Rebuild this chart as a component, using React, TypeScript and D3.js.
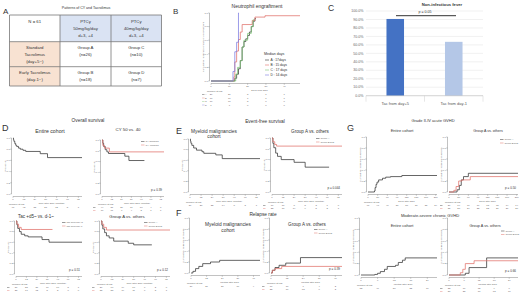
import React from "react";
import * as d3 from "d3";

const FONT = "'Liberation Sans', Arial, sans-serif";
const INK = "#333";
const GREY = "#666";
const RED = "#e0706a";

// ---------- Panel A data ----------
const tableCorner = ["N = 61"];
const tableColHeads = [
  ["PTCy", "50mg/kg/day", "d+3, +4"],
  ["PTCy", "40mg/kg/day", "d+3, +4"],
];
const tableRowHeads = [
  ["Standard", "Tacrolimus", "(day+5~)"],
  ["Early Tacrolimus", "(day-1~)"],
];
const tableCells = [
  [["Group A", "(n=26)"], ["Group C", "(n=10)"]],
  [["Group B", "(n=18)"], ["Group D", "(n=7)"]],
];

// ---------- Panel B data ----------
type Pt = [number, number];
const engraftTicks = [0, 10, 20, 30, 40];
const engraftA: Pt[] = [[0, 0], [13, 0.04], [14, 0.1], [15, 0.18], [16, 0.3], [17, 0.5], [18, 0.58], [19, 0.62], [20, 0.67], [21, 0.72], [22, 0.8], [23, 0.88], [24, 0.92]];
const engraftB: Pt[] = [[0, 0], [12.5, 0.06], [13, 0.28], [14, 0.44], [15, 0.61], [16, 0.72], [17, 0.83], [22.5, 0.89], [24, 0.94], [29.5, 0.96]];
const engraftC: Pt[] = [[0, 0], [13.5, 0.1], [14.5, 0.2], [16, 0.3], [17, 0.5], [18, 0.6], [20, 0.7], [22, 0.8], [23, 0.9]];
const engraftD: Pt[] = [[0, 0], [12, 0.14], [13, 0.43], [14, 0.57], [15, 1.0]];
const engraftEnds = [24.5, 48.6, 23.5, 15.3];
const engraftMedians = ["A : 17days", "B : 15 days", "C : 17 days", "D : 14 days"];
const engraftRisk = [
  [26, 26, 3, 1, 1],
  [18, 16, 1, 1, 1],
  [10, 10, 3, 0, 0],
  [7, 7, 0, 0, 0],
];

// ---------- Panel C data ----------
const feverCategories = ["Tac from day+5", "Tac from day-1"];
const feverValues = [0.906, 0.636];
const feverTicks = [0, 0.1, 0.2, 0.3, 0.4, 0.5, 0.6, 0.7, 0.8, 0.9, 1.0];
const feverP = "p = 0.05";

// ---------- Survival data (months) ----------
const monthTicks = [0, 12, 24, 36, 48, 60, 72];
const osEntire: Pt[] = [[0, 1], [0.5, 0.97], [1, 0.94], [2, 0.9], [3, 0.87], [4, 0.85], [6, 0.82], [8, 0.8], [11, 0.78], [14, 0.76], [30, 0.72], [38, 0.65]];
const osEntireRisk = [61, 42, 33, 21, 12, 5, 1];
const osCy50: Pt[] = [[0, 1], [1, 0.94], [2, 0.88], [4, 0.82], [6, 0.78], [8, 0.75], [28, 0.7], [33, 0.62]];
const osCy40: Pt[] = [[0, 1], [1, 0.9], [3, 0.85], [9, 0.78]];
const osCyRisk = [[44, 31, 26, 17, 10, 4, 0], [17, 11, 7, 4, 2, 1, 1]];
const osTac5: Pt[] = [[0, 1], [1, 0.93], [2, 0.86], [4, 0.8], [6, 0.75], [10, 0.72], [14, 0.7], [30, 0.65], [38, 0.6]];
const osTac1: Pt[] = [[0, 1], [1, 0.94], [3, 0.88], [6, 0.84]];
const osTacRisk = [[36, 25, 21, 16, 10, 5, 1], [25, 17, 12, 5, 2, 0, 0]];
const osGrpA: Pt[] = [[0, 1], [1, 0.92], [2, 0.85], [4, 0.78], [6, 0.72], [9, 0.68], [14, 0.62], [30, 0.58], [36, 0.55]];
const osGrpO: Pt[] = [[0, 1], [1, 0.94], [3, 0.88], [6, 0.83]];
const osGrpRisk = [[26, 17, 14, 10, 6, 2, 0], [35, 25, 19, 11, 6, 3, 1]];

const efsMyeloid: Pt[] = [[0, 1], [0.5, 0.96], [1, 0.92], [2, 0.88], [4, 0.83], [7, 0.79], [13, 0.76], [15, 0.73], [28, 0.7], [35, 0.63]];
const efsMyeloidRisk = [39, 28, 22, 14, 8, 3, 1];
const efsGrpA: Pt[] = [[0, 1], [1, 0.9], [2, 0.82], [4, 0.72], [6, 0.66], [10, 0.6], [24, 0.55], [36, 0.46]];
const efsGrpO: Pt[] = [[0, 1], [1, 0.93], [3, 0.88], [5, 0.85]];
const efsGrpRisk = [[17, 10, 8, 5, 3, 1, 0], [22, 18, 14, 9, 5, 2, 1]];

const relTicks = [0, 12, 24, 36, 48];
const relMyeloid: Pt[] = [[0, 0], [1.5, 0.03], [3.5, 0.08], [6, 0.12], [9, 0.17], [15, 0.2], [22, 0.23]];
const relMyeloidRisk = [39, 27, 20, 10, 4];
const relGrpA: Pt[] = [[0, 0], [1, 0.05], [3, 0.1], [6, 0.14], [11, 0.18], [22, 0.28]];
const relGrpO: Pt[] = [[0, 0], [1, 0.05], [3, 0.08], [8, 0.12]];
const relGrpRisk = [[17, 10, 7, 4, 2], [22, 17, 13, 6, 2]];

const dayTicks = [0, 30, 60, 90, 120, 150, 180, 210];
const agvhdEntire: Pt[] = [[0, 0], [20, 0.02], [22, 0.08], [25, 0.14], [28, 0.18], [33, 0.22], [45, 0.25], [55, 0.27], [70, 0.28], [105, 0.3]];
const agvhdEntireRisk = [61, 47, 40, 38, 37, 36, 35, 34];
const agvhdGrpA: Pt[] = [[0, 0], [25, 0.04], [32, 0.12], [38, 0.22], [45, 0.28], [60, 0.34]];
const agvhdGrpO: Pt[] = [[0, 0], [15, 0.03], [22, 0.1], [30, 0.2], [40, 0.22], [66, 0.28]];
const agvhdGrpRisk = [[26, 19, 16, 16, 15, 15, 14, 14], [35, 28, 24, 22, 22, 21, 21, 20]];

const cgTicks = [0, 6, 12, 18, 24];
const cgvhdEntire: Pt[] = [[0, 0], [5, 0.01], [6, 0.03], [7, 0.06], [8.5, 0.1], [9.5, 0.15], [12.5, 0.17], [13.5, 0.22], [15, 0.26], [16, 0.3]];
const cgvhdEntireRisk = [52, 40, 30, 22, 16];
const cgvhdGrpA: Pt[] = [[0, 0], [6.5, 0.03], [8, 0.13], [15, 0.3]];
const cgvhdGrpO: Pt[] = [[0, 0], [4.5, 0.04], [5.5, 0.1], [6.5, 0.2], [10, 0.25]];
const cgvhdGrpRisk = [[22, 17, 12, 9, 6], [30, 23, 18, 13, 10]];

const yTicks = [0, 0.2, 0.4, 0.6, 0.8, 1.0];

interface Curve { pts: Pt[]; end: number; color: string; name?: string; risk?: number[]; width?: number }
interface KMProps {
  x0: number; x1: number; y0: number; y1: number;
  xmax: number; xticks: number[];
  curves: Curve[];
  ytitle: string; xtitle: string;
  p?: string; legend?: boolean; legendX?: number; legendY?: number;
  riskGap?: number; riskLabels?: string[];
}

function KM(props: KMProps) {
  const { x0, x1, y0, y1, xmax, xticks, curves, ytitle, xtitle, p, legend, riskGap = 3, riskLabels } = props;
  const x = d3.scaleLinear().domain([0, xmax]).range([x0, x1]);
  const y = d3.scaleLinear().domain([0, 1]).range([y1, y0]);
  const line = d3.line<Pt>().x((d) => x(d[0])).y((d) => y(d[1])).curve(d3.curveStepAfter);
  const axY = y1 + 2.5;
  const axX = x0 - 1.5;
  const fs = 2.4;
  const lgX = props.legendX ?? x1 - 18;
  const lgY = props.legendY ?? y0 + 1.5;
  return (
    <g fontFamily={FONT}>
      <line x1={axX} x2={axX} y1={y0} y2={y1} stroke="#777" strokeWidth={0.45} />
      {yTicks.map((t) => (
        <g key={t}>
          <line x1={axX - 1.2} x2={axX} y1={y(t)} y2={y(t)} stroke="#777" strokeWidth={0.45} />
          <text x={axX - 1.6} y={y(t) + 0.8} fontSize={fs} textAnchor="end" fill={GREY}>{t.toFixed(1)}</text>
        </g>
      ))}
      <text transform={`translate(${axX - 5.5},${(y0 + y1) / 2}) rotate(-90)`} fontSize={fs} textAnchor="middle" fill={GREY}>{ytitle}</text>
      <line x1={x0} x2={x1} y1={axY} y2={axY} stroke="#777" strokeWidth={0.45} />
      {xticks.map((t) => (
        <g key={t}>
          <line x1={x(t)} x2={x(t)} y1={axY} y2={axY + 1.2} stroke="#777" strokeWidth={0.45} />
          <text x={x(t)} y={axY + 3.8} fontSize={fs} textAnchor="middle" fill={GREY}>{t}</text>
        </g>
      ))}
      <text x={(x0 + x1) / 2 + 4} y={axY + 7.5} fontSize={fs} textAnchor="middle" fill={GREY}>{xtitle}</text>
      <text x={x0 - 4} y={axY + 8.5} fontSize={fs} fill={GREY}>Number at risk</text>
      {curves.map((c, i) =>
        c.risk ? (
          <g key={"r" + i}>
            {curves.length > 1 && (
              <g>
                <line x1={x0 - 9} x2={x0 - 6.5} y1={axY + 11 + i * riskGap} y2={axY + 11 + i * riskGap} stroke={c.color} strokeWidth={0.4} />
                <text x={x0 - 6} y={axY + 11.8 + i * riskGap} fontSize={fs} fill={GREY}>{riskLabels ? riskLabels[i] : ""}</text>
              </g>
            )}
            {c.risk.map((v, j) => (
              <text key={j} x={x(xticks[j])} y={axY + 11.8 + i * riskGap} fontSize={fs} textAnchor="middle" fill={GREY}>{v}</text>
            ))}
          </g>
        ) : null
      )}
      {curves.map((c, i) => {
        const pts: Pt[] = [...c.pts, [c.end, c.pts[c.pts.length - 1][1]]];
        return <path key={i} d={line(pts) || ""} fill="none" stroke={c.color} strokeWidth={c.width ?? 0.75} />;
      })}
      {legend &&
        curves.map((c, i) => (
          <g key={"l" + i}>
            <line x1={lgX} x2={lgX + 3.5} y1={lgY + i * 3.5} y2={lgY + i * 3.5} stroke={c.color} strokeWidth={0.5} />
            <text x={lgX + 4.5} y={lgY + 0.9 + i * 3.5} fontSize={fs} fill={GREY}>{c.name}</text>
          </g>
        ))}
      {p && (
        <text x={x1 - 2} y={y1 - 3} fontSize={3} textAnchor="end" fill={INK}>{p}</text>
      )}
    </g>
  );
}

function PanelA() {
  const xs = [9.5, 60, 111, 161.5];
  const ys = [15, 41.7, 66.7, 86];
  const fs = 4.3;
  const lh = 7.2;
  const cx = (i: number) => (xs[i] + xs[i + 1]) / 2;
  return (
    <g fontFamily={FONT} fill={INK}>
      <text x={3} y={14} fontSize={8}>A</text>
      <text x={86} y={8.5} fontSize={3.6} textAnchor="middle">Patterns of CY and Tacrolimus</text>
      <rect x={xs[1]} y={ys[0]} width={xs[3] - xs[1]} height={ys[1] - ys[0]} fill="#dae3f3" />
      <rect x={xs[0]} y={ys[1]} width={xs[1] - xs[0]} height={ys[3] - ys[1]} fill="#f8e2d2" />
      {xs.map((v) => <line key={"v" + v} x1={v} x2={v} y1={ys[0]} y2={ys[3]} stroke="#777" strokeWidth={0.8} />)}
      {ys.map((v) => <line key={"h" + v} x1={xs[0]} x2={xs[3]} y1={v} y2={v} stroke="#777" strokeWidth={0.8} />)}
      {tableCorner.map((t, k) => <text key={t} x={cx(0)} y={23 + k * lh} fontSize={fs} textAnchor="middle">{t}</text>)}
      {tableColHeads.map((lines, i) =>
        lines.map((t, k) => <text key={i + t + k} x={cx(i + 1)} y={23 + k * lh} fontSize={fs} textAnchor="middle">{t}</text>)
      )}
      {tableRowHeads.map((lines, r) =>
        lines.map((t, k) => <text key={r + t} x={cx(0)} y={(r === 0 ? 48.8 : 74.2) + k * lh} fontSize={fs} textAnchor="middle">{t}</text>)
      )}
      {tableCells.map((row, r) =>
        row.map((cell, c) =>
          cell.map((t, k) => <text key={r + "-" + c + t} x={cx(c + 1)} y={(r === 0 ? 48.8 : 74.2) + k * lh} fontSize={fs} textAnchor="middle">{t}</text>)
        )
      )}
    </g>
  );
}

function PanelB() {
  const colors = [INK, RED, "#7cc576", "#7b7be0"];
  const sets = [engraftA, engraftB, engraftC, engraftD];
  const curves: Curve[] = sets.map((s, i) => ({ pts: s, end: engraftEnds[i], color: colors[i], risk: engraftRisk[i] }));
  return (
    <g fontFamily={FONT}>
      <text x={173} y={14} fontSize={8} fill={INK}>B</text>
      <text x={257} y={7.5} fontSize={5} textAnchor="middle" fill={INK}>Neutrophil engraftment</text>
      <KM x0={211} x1={300} y0={13} y1={81} xmax={48.6} xticks={engraftTicks} curves={curves}
        ytitle="Cumulative incidence of neutrophil engraftment" xtitle="Days from SCT" riskGap={3.5}
        riskLabels={["A", "B", "C", "D"]} />
      <text x={264} y={54.5} fontSize={3.6} fill={INK}>Median days</text>
      {engraftMedians.map((m, i) => (
        <g key={m}>
          <line x1={265} x2={269} y1={60 + i * 5} y2={60 + i * 5} stroke={colors[i]} strokeWidth={0.6} />
          <text x={270.5} y={61.2 + i * 5} fontSize={3.3} fill={INK}>{m}</text>
        </g>
      ))}
    </g>
  );
}

function PanelC() {
  const x = d3.scaleBand().domain(feverCategories).range([366, 483]).paddingInner(0.7).paddingOuter(0.35);
  const y = d3.scaleLinear().domain([0, 1]).range([95.7, 11]);
  const colors = ["#4472c4", "#b4c7e7"];
  return (
    <g fontFamily={FONT}>
      <text x={328} y={11} fontSize={8.5} fill={INK}>C</text>
      <text x={442} y={5.5} fontSize={4.2} textAnchor="middle" fontWeight="bold" fill={INK}>Non-infectious fever</text>
      {feverTicks.map((t) => (
        <g key={t}>
          <line x1={366} x2={483} y1={y(t)} y2={y(t)} stroke="#e3e3e3" strokeWidth={0.5} />
          <text x={363.5} y={y(t) + 1.2} fontSize={3.6} textAnchor="end" fill="#666">{(t * 100).toFixed(1)}%</text>
        </g>
      ))}
      {feverCategories.map((c, i) => (
        <g key={c}>
          <rect x={x(c)!} y={y(feverValues[i])} width={x.bandwidth()} height={y(0) - y(feverValues[i])} fill={colors[i]} />
          <text x={x(c)! + x.bandwidth() / 2} y={104.5} fontSize={4} textAnchor="middle" fill="#555">{c}</text>
        </g>
      ))}
      <line x1={366} x2={483} y1={y(0)} y2={y(0)} stroke="#bbb" strokeWidth={0.5} />
      {[366, 424.5, 483].map((v) => <line key={v} x1={v} x2={v} y1={y(0)} y2={y(0) + 6} stroke="#ccc" strokeWidth={0.5} />)}
      <line x1={396} x2={456} y1={15.7} y2={15.7} stroke="#333" strokeWidth={1} />
      <text x={425} y={13} fontSize={3.6} textAnchor="middle" fill={INK}>{feverP}</text>
    </g>
  );
}

function PanelD() {
  return (
    <g fontFamily={FONT} fill={INK}>
      <text x={2} y={131} fontSize={9}>D</text>
      <text x={88} y={122} fontSize={4.8} textAnchor="middle">Overall survival</text>
      <text x={50} y={133} fontSize={5.2} textAnchor="middle">Entire cohort</text>
      <KM x0={13} x1={82} y0={138} y1={194} xmax={76} xticks={monthTicks} ytitle="Probability" xtitle="Time after SCT (months)"
        curves={[{ pts: osEntire, end: 76, color: INK, risk: osEntireRisk }]} />
      <text x={128} y={131} fontSize={4.4} textAnchor="middle">CY 50 vs. 40</text>
      <KM x0={102} x1={164} y0={140} y1={194} xmax={76} xticks={monthTicks} ytitle="Probability" xtitle="Time after SCT (months)"
        p="p = 0.39" legend legendX={141} riskLabels={["", ""]}
        curves={[{ pts: osCy50, end: 52, color: INK, name: "CY 50mg/kg", risk: osCyRisk[0] }, { pts: osCy40, end: 76, color: RED, name: "CY 40mg/kg", risk: osCyRisk[1] }]} />
      <text x={36} y={218} fontSize={4.5} textAnchor="middle">Tac +d5~ vs. d-1~</text>
      <KM x0={16} x1={82} y0={221} y1={274} xmax={76} xticks={monthTicks} ytitle="Probability" xtitle="Time after SCT (months)"
        p="p = 0.51" legend legendX={62} riskLabels={["", ""]}
        curves={[{ pts: osTac5, end: 76, color: INK, name: "Tac from day+5", risk: osTacRisk[0] }, { pts: osTac1, end: 42, color: RED, name: "Tac from day-1", risk: osTacRisk[1] }]} />
      <text x={127} y={218} fontSize={4.3} textAnchor="middle">Group A vs. others</text>
      <KM x0={101} x1={170} y0={221} y1={274} xmax={76} xticks={monthTicks} ytitle="Probability" xtitle="Time after SCT (months)"
        p="p = 0.12" legend legendX={144} legendY={222.5} riskLabels={["", ""]}
        curves={[{ pts: osGrpA, end: 56, color: INK, name: "Group A", risk: osGrpRisk[0] }, { pts: osGrpO, end: 76, color: RED, name: "Group B/C/D", risk: osGrpRisk[1] }]} />
    </g>
  );
}

function PanelEF() {
  return (
    <g fontFamily={FONT} fill={INK}>
      <text x={176} y={134} fontSize={9}>E</text>
      <text x={265} y={123} fontSize={4.8} textAnchor="middle">Event-free survival</text>
      <text x={214} y={132.5} fontSize={4.8} textAnchor="middle">Myeloid malignancies</text>
      <text x={214} y={138} fontSize={4.8} textAnchor="middle">cohort</text>
      <KM x0={190} x1={260} y0={139} y1={192} xmax={76} xticks={monthTicks} ytitle="Probability" xtitle="Time after SCT (months)"
        curves={[{ pts: efsMyeloid, end: 76, color: INK, risk: efsMyeloidRisk }]} />
      <text x={310} y={133} fontSize={4.6} textAnchor="middle">Group A vs. others</text>
      <KM x0={272} x1={342} y0={138} y1={192} xmax={76} xticks={monthTicks} ytitle="Probability" xtitle="Time after SCT (months)"
        p="p = 0.044" legend legendX={316} legendY={138.5} riskLabels={["", ""]}
        curves={[{ pts: efsGrpA, end: 62, color: INK, name: "Group A", risk: efsGrpRisk[0] }, { pts: efsGrpO, end: 76, color: RED, name: "Group B/C/D", risk: efsGrpRisk[1] }]} />

      <text x={176} y={216} fontSize={9}>F</text>
      <text x={263} y={215.5} fontSize={4.8} textAnchor="middle">Relapse rate</text>
      <text x={228} y={226} fontSize={4.8} textAnchor="middle">Myeloid malignancies</text>
      <text x={228} y={232} fontSize={4.8} textAnchor="middle">cohort</text>
      <KM x0={191} x1={260} y0={218} y1={273} xmax={53} xticks={relTicks} ytitle="Cumulative incidence of relapse" xtitle="Months after SCT"
        curves={[{ pts: relMyeloid, end: 53, color: INK, risk: relMyeloidRisk }]} />
      <text x={307} y={226} fontSize={4.6} textAnchor="middle">Group A vs. others</text>
      <KM x0={271} x1={342} y0={218} y1={273} xmax={53} xticks={relTicks} ytitle="Cumulative incidence of relapse" xtitle="Months after SCT"
        p="p = 0.39" legend legendX={314} legendY={229.5} riskLabels={["", ""]}
        curves={[{ pts: relGrpA, end: 53, color: INK, name: "Group A", risk: relGrpRisk[0] }, { pts: relGrpO, end: 53, color: RED, name: "Group B/C/D", risk: relGrpRisk[1] }]} />
    </g>
  );
}

function PanelG() {
  return (
    <g fontFamily={FONT} fill={INK}>
      <text x={347} y={131} fontSize={9}>G</text>
      <text x={433} y={122} fontSize={4} textAnchor="middle">Grade II-IV acute GVHD</text>
      <text x={402} y={132} fontSize={4} textAnchor="middle">Entire cohort</text>
      <KM x0={368} x1={437} y0={137} y1={192} xmax={214} xticks={dayTicks} ytitle="Cumulative incidence of aGVHD" xtitle="Days after SCT"
        curves={[{ pts: agvhdEntire, end: 214, color: INK, risk: agvhdEntireRisk }]} />
      <text x={488} y={132} fontSize={3.6} textAnchor="middle">Group A vs. others</text>
      <KM x0={449} x1={518} y0={137} y1={192} xmax={214} xticks={dayTicks} ytitle="Cumulative incidence of aGVHD" xtitle="Days after SCT"
        p="p = 0.50" legend legendX={500} legendY={139.5} riskLabels={["", ""]}
        curves={[{ pts: agvhdGrpA, end: 214, color: INK, name: "Group A", risk: agvhdGrpRisk[0] }, { pts: agvhdGrpO, end: 214, color: RED, name: "Group B/C/D", risk: agvhdGrpRisk[1] }]} />
      <text x={430} y={217} fontSize={4.1} textAnchor="middle">Moderate-severe chronic GVHD</text>
      <text x={402} y={227} fontSize={4} textAnchor="middle">Entire cohort</text>
      <KM x0={361} x1={437} y0={218} y1={275} xmax={27.5} xticks={cgTicks} ytitle="Cumulative incidence of cGVHD" xtitle="Months after SCT"
        curves={[{ pts: cgvhdEntire, end: 27.5, color: INK, risk: cgvhdEntireRisk }]} />
      <text x={485} y={227} fontSize={3.8} textAnchor="middle">Group A vs. others</text>
      <KM x0={449} x1={518} y0={218} y1={275} xmax={27.5} xticks={cgTicks} ytitle="Cumulative incidence of cGVHD" xtitle="Months after SCT"
        p="p = 0.66" legend legendX={501} legendY={231} riskLabels={["", ""]}
        curves={[{ pts: cgvhdGrpA, end: 27.5, color: INK, name: "Group A", risk: cgvhdGrpRisk[0] }, { pts: cgvhdGrpO, end: 27.5, color: RED, name: "Group B/C/D", risk: cgvhdGrpRisk[1] }]} />
    </g>
  );
}

export default function App() {
  return (
    <svg width={520} height={295} viewBox="0 0 520 295" style={{ position: "absolute", left: 0, top: 0, background: "#fff" }}>
      <rect width={520} height={295} fill="#fff" />
      <PanelA />
      <PanelB />
      <PanelC />
      <PanelD />
      <PanelEF />
      <PanelG />
    </svg>
  );
}
